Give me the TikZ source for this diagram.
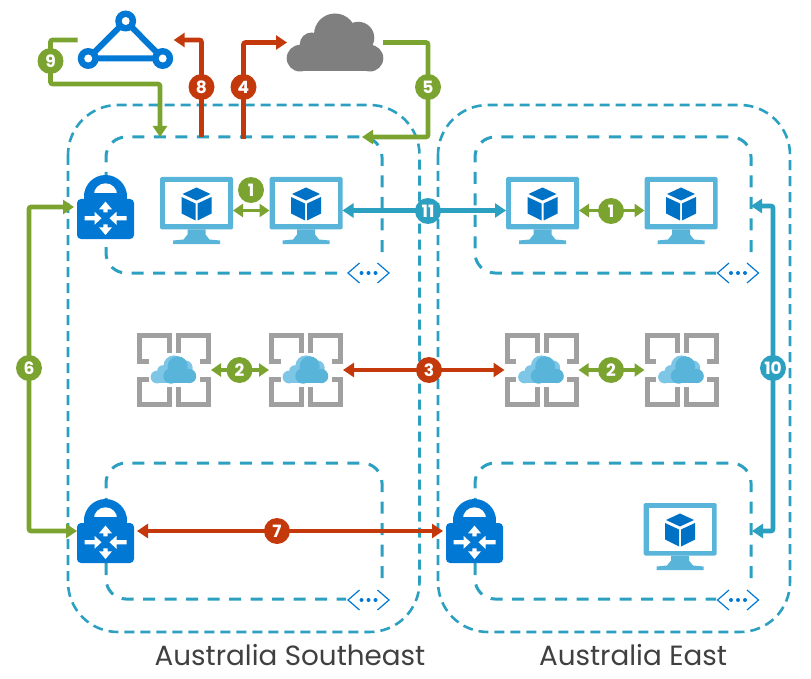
\documentclass[tikz,border=0pt]{standalone}
\usepackage{fontspec}
\setmainfont{Poppins}
\usepackage{tikz}
\usetikzlibrary{arrows.meta,calc}
\definecolor{azTeal}{RGB}{43,160,192}
\definecolor{azGreen}{RGB}{122,163,48}
\definecolor{azRed}{RGB}{195,57,12}
\definecolor{azBlue}{RGB}{0,114,198}
\definecolor{azBright}{RGB}{0,120,212}
\definecolor{azSky}{RGB}{89,180,217}
\definecolor{azPale}{RGB}{125,198,230}
\definecolor{azGray}{RGB}{127,127,127}
\definecolor{azFrame}{RGB}{160,160,160}
\definecolor{azText}{RGB}{64,64,64}
\tikzset{
  iconbox/.style={inner sep=0pt, outer sep=0pt},
  pics/vmicon/.style={code={
    \node[iconbox, minimum width=73pt, minimum height=67pt] (-box) at (0,0) {};
    \fill[azSky, rounded corners=1.5pt] (-36.5,-33.5) rectangle (36.5,19);
    \fill[white] (-31.5,-28.5) rectangle (31.5,14);
    \fill[azSky] (-9,19) -- (9,19) -- (9,24) -- (13,29) -- (23.5,30) -- (23.5,33.5)
      -- (-23.5,33.5) -- (-23.5,30) -- (-13,29) -- (-9,24) -- cycle;
    \fill[azBlue] (0,-23) -- (14,-16.5) -- (0,-10) -- (-14,-16.5) -- cycle;
    \fill[azBlue] (-15,-13.5) -- (-1,-7) -- (-1,10) -- (-15,3) -- cycle;
    \fill[azBlue] (15,-13.5) -- (1,-7) -- (1,10) -- (15,3) -- cycle;
  }},
  pics/lockicon/.style={code={
    \node[iconbox, minimum width=57pt, minimum height=64pt] (-box) at (0,0) {};
    \fill[azBright] (0,-10.5) circle[radius=21.5];
    \fill[white] (0,-12) circle[radius=11.7];
    \fill[azBright] (-21.5,-14) rectangle (21.5,-8);
    \fill[azBright, rounded corners=4pt] (-28.5,-8) rectangle (28.5,32);
    % arrows
    \foreach \sgn in {-1,1} {
      \fill[white] (\sgn*21,9.2) -- (\sgn*11,9.2) -- (\sgn*11,4.8) -- (\sgn*4,11.3)
        -- (\sgn*11,17.8) -- (\sgn*11,13.4) -- (\sgn*21,13.4) -- cycle;
      \fill[white] (-2.2,11.3+\sgn*6) -- (-2.2,11.3+\sgn*9) -- (-6.5,11.3+\sgn*9)
        -- (0,11.3+\sgn*16.7) -- (6.5,11.3+\sgn*9) -- (2.2,11.3+\sgn*9) -- (2.2,11.3+\sgn*6) -- cycle;
    }
  }},
  pics/appicon/.style={code={
    \node[iconbox, minimum width=74pt, minimum height=74pt] (-box) at (0,0) {};
    \foreach \sx in {-1,1} \foreach \sy in {-1,1} {
      \draw[azFrame, line width=5pt] (\sx*25.5,\sy*9) -- (\sx*34.5,\sy*9) -- (\sx*34.5,\sy*34.5)
        -- (\sx*4.5,\sy*34.5) -- (\sx*4.5,\sy*17);
    }
    \fill[azPale] (-17,7) circle[radius=6.4] (-11,1) circle[radius=5.8] (0,-4) circle[radius=10.6]
      (11,-2) circle[radius=7.7] (16,6.5) circle[radius=6.2];
    \fill[azPale] (-17,4) rectangle (16,13.4);
    \fill[azSky] (3.7,-3.7) circle[radius=10] (-3,6) circle[radius=7.7] (15,6) circle[radius=7.2];
    \fill[azSky] (-3,6) rectangle (15,13.2);
    \fill[azSky] (3.7,0) rectangle (13.5,7);
  }},
  pics/cloudicon/.style={code={
    \node[iconbox, minimum width=96pt, minimum height=58pt] (-box) at (0,0) {};
    \fill[azGray] (-35,15.7) circle[radius=13.3] (-23.3,2) circle[radius=12] (0,-8) circle[radius=21]
      (23.3,-4.7) circle[radius=16] (35,15.7) circle[radius=13.3];
    \fill[azGray] (-35,8) rectangle (35,29);
  }},
  pics/triicon/.style={code={
    \node[iconbox, minimum width=96pt, minimum height=58pt] (-box) at (0,0) {};
    \draw[azBright, line width=6pt] (0,-19) -- (37,18.5) -- (-37.5,18.5) -- cycle;
    \foreach \px/\py in {0/-19, 37/18.5, -37.5/18.5} {
      \fill[azBright] (\px,\py) circle[radius=10.5];
      \fill[white] (\px,\py) circle[radius=4];
    }
  }},
  pics/tagicon/.style={code={
    \draw[azBright, line width=1.2pt] (-9,-10) -- (-20.5,0) -- (-9,10);
    \draw[azBright, line width=1.2pt] (9,-10) -- (20.5,0) -- (9,10);
    \fill[azBright] (-7,0) circle[radius=2] (0,0) circle[radius=2] (7,0) circle[radius=2];
  }}
}

\begin{document}
\begin{tikzpicture}[
    x=1pt, y=-1pt,
    >={Triangle[length=11pt,width=14pt]},
    regionline/.style={azTeal, line width=2.6pt, dash pattern=on 10pt off 6pt},
    subnetline/.style={azTeal, line width=3pt, dash pattern=on 12pt off 9.5pt, rounded corners=20pt},
    elbowline/.style={line width=4.6pt, rounded corners=2pt},
    thickline/.style={line width=4.6pt},
    thinline/.style={line width=3.4pt, >={Triangle[length=10pt,width=13pt]}},
    stepnum/.style={circle, minimum size=26pt, inner sep=0pt, text=white, font=\fontsize{17}{17}\selectfont\bfseries},
    greennum/.style={stepnum, fill=azGreen},
    rednum/.style={stepnum, fill=azRed},
    tealnum/.style={stepnum, fill=azTeal},
    regionname/.style={text=azText, font=\fontsize{27.8}{28}\selectfont, inner sep=0pt}
  ]
  \useasboundingbox (0,0) rectangle (811,679);

  % Regions
  \draw[regionline, rounded corners=50pt] (68,105) rectangle (419.5,632);
  \draw[regionline, rounded corners=50pt] (438,105) rectangle (790,632);

  % Subnets
  \draw[subnetline] (382,252) -- (382,137) -- (106,137) -- (106,175);
  \draw[subnetline] (106,247) -- (106,273) -- (346,273);
  \draw[subnetline] (751,252) -- (751,137) -- (475,137) -- (475,273) -- (716,273);
  \draw[subnetline] (382,578) -- (382,463) -- (106,463) -- (106,499);
  \draw[subnetline] (106,563) -- (106,599) -- (346,599);
  \draw[subnetline] (751,578) -- (751,463) -- (475,463) -- (475,499);
  \draw[subnetline] (475,563) -- (475,599) -- (716,599);
  \pic at (368.5,273) {tagicon};
  \pic at (738,273) {tagicon};
  \pic at (368.5,600) {tagicon};
  \pic at (738,600) {tagicon};

  % Icons
  \pic (tri) at (125.7,40) {triicon};
  \pic (cloud) at (335,42.5) {cloudicon};
  \pic (gwA) at (105.5,207) {lockicon};
  \pic (gwB) at (105.5,531) {lockicon};
  \pic (gwC) at (474.5,531) {lockicon};
  \pic (vmA) at (196.5,210.5) {vmicon};
  \pic (vmB) at (306,210.5) {vmicon};
  \pic (vmC) at (542.5,210.5) {vmicon};
  \pic (vmD) at (681,210.5) {vmicon};
  \pic (vmE) at (680,536.5) {vmicon};
  \pic (appA) at (174,370) {appicon};
  \pic (appB) at (306,370) {appicon};
  \pic (appC) at (541.5,370) {appicon};
  \pic (appD) at (681.5,370) {appicon};

  % Free ends and bends
  \coordinate (bend9) at (50.5,84);
  \coordinate (end9) at (160,137);
  \coordinate (start8) at (201.5,137);
  \coordinate (start4) at (243.5,139);
  \coordinate (bend5) at (428,87);
  \coordinate (end5) at (362,137);
  \coordinate (bend6) at (29,368);
  \coordinate (bend10) at (773,368);
  \coordinate (end10a) at (751,206);
  \coordinate (end10b) at (752,531);

  % Connectors
  \draw[thinline, <->, azGreen] (vmA-box.east) -- (vmB-box.west);
  \draw[thinline, <->, azGreen] (vmC-box.east) -- (vmD-box.west);
  \draw[thinline, <->, azGreen] (appA-box.east) -- (appB-box.west);
  \draw[thinline, <->, azGreen] (appC-box.east) -- (appD-box.west);
  \draw[thickline, <->, azTeal] (vmB-box.east) -- (vmC-box.west);
  \draw[thickline, <->, azRed] (appB-box.east) -- (appC-box.west);
  \draw[thickline, <->, azRed, shorten <=3pt, shorten >=3pt] (gwB-box.east) -- (gwC-box.west);
  \draw[elbowline, azGreen, ->] (tri-box.west) -| (bend9) -| (end9);
  \draw[elbowline, azRed, ->] (start8) |- (tri-box.east);
  \draw[elbowline, azRed, ->] (start4) |- (cloud-box.west);
  \draw[elbowline, azGreen, ->] (cloud-box.east) -| (bend5) |- (end5);
  \draw[elbowline, azGreen, <->, shorten <=3pt] (gwA-box.west) -| (bend6) |- (gwB-box.west);
  \draw[elbowline, azTeal, <->] (end10a) -| (bend10) |- (end10b);

  % Step numbers
  \node[greennum] (n1a) at (251,190) {1};
  \node[greennum] (n1b) at (611,211) {1};
  \node[greennum] (n2a) at (239.5,370) {2};
  \node[greennum] (n2b) at (611,370) {2};
  \node[rednum] (n3) at (429,370) {3};
  \node[rednum] (n4) at (243.5,87) {4};
  \node[greennum] (n5) at (bend5) {5};
  \node[greennum] (n6) at (bend6) {6};
  \node[rednum] (n7) at (277,531) {7};
  \node[rednum] (n8) at (201.5,87) {8};
  \node[greennum] (n9) at (50.5,61) {9};
  \node[tealnum] (n10) at (bend10) {10};
  \node[tealnum] (n11) at (428,211) {11};

  % Region names
  \node[regionname] (southeast) at (290,655) {Australia Southeast};
  \node[regionname] (east) at (633,655) {Australia East};
\end{tikzpicture}
\end{document}
